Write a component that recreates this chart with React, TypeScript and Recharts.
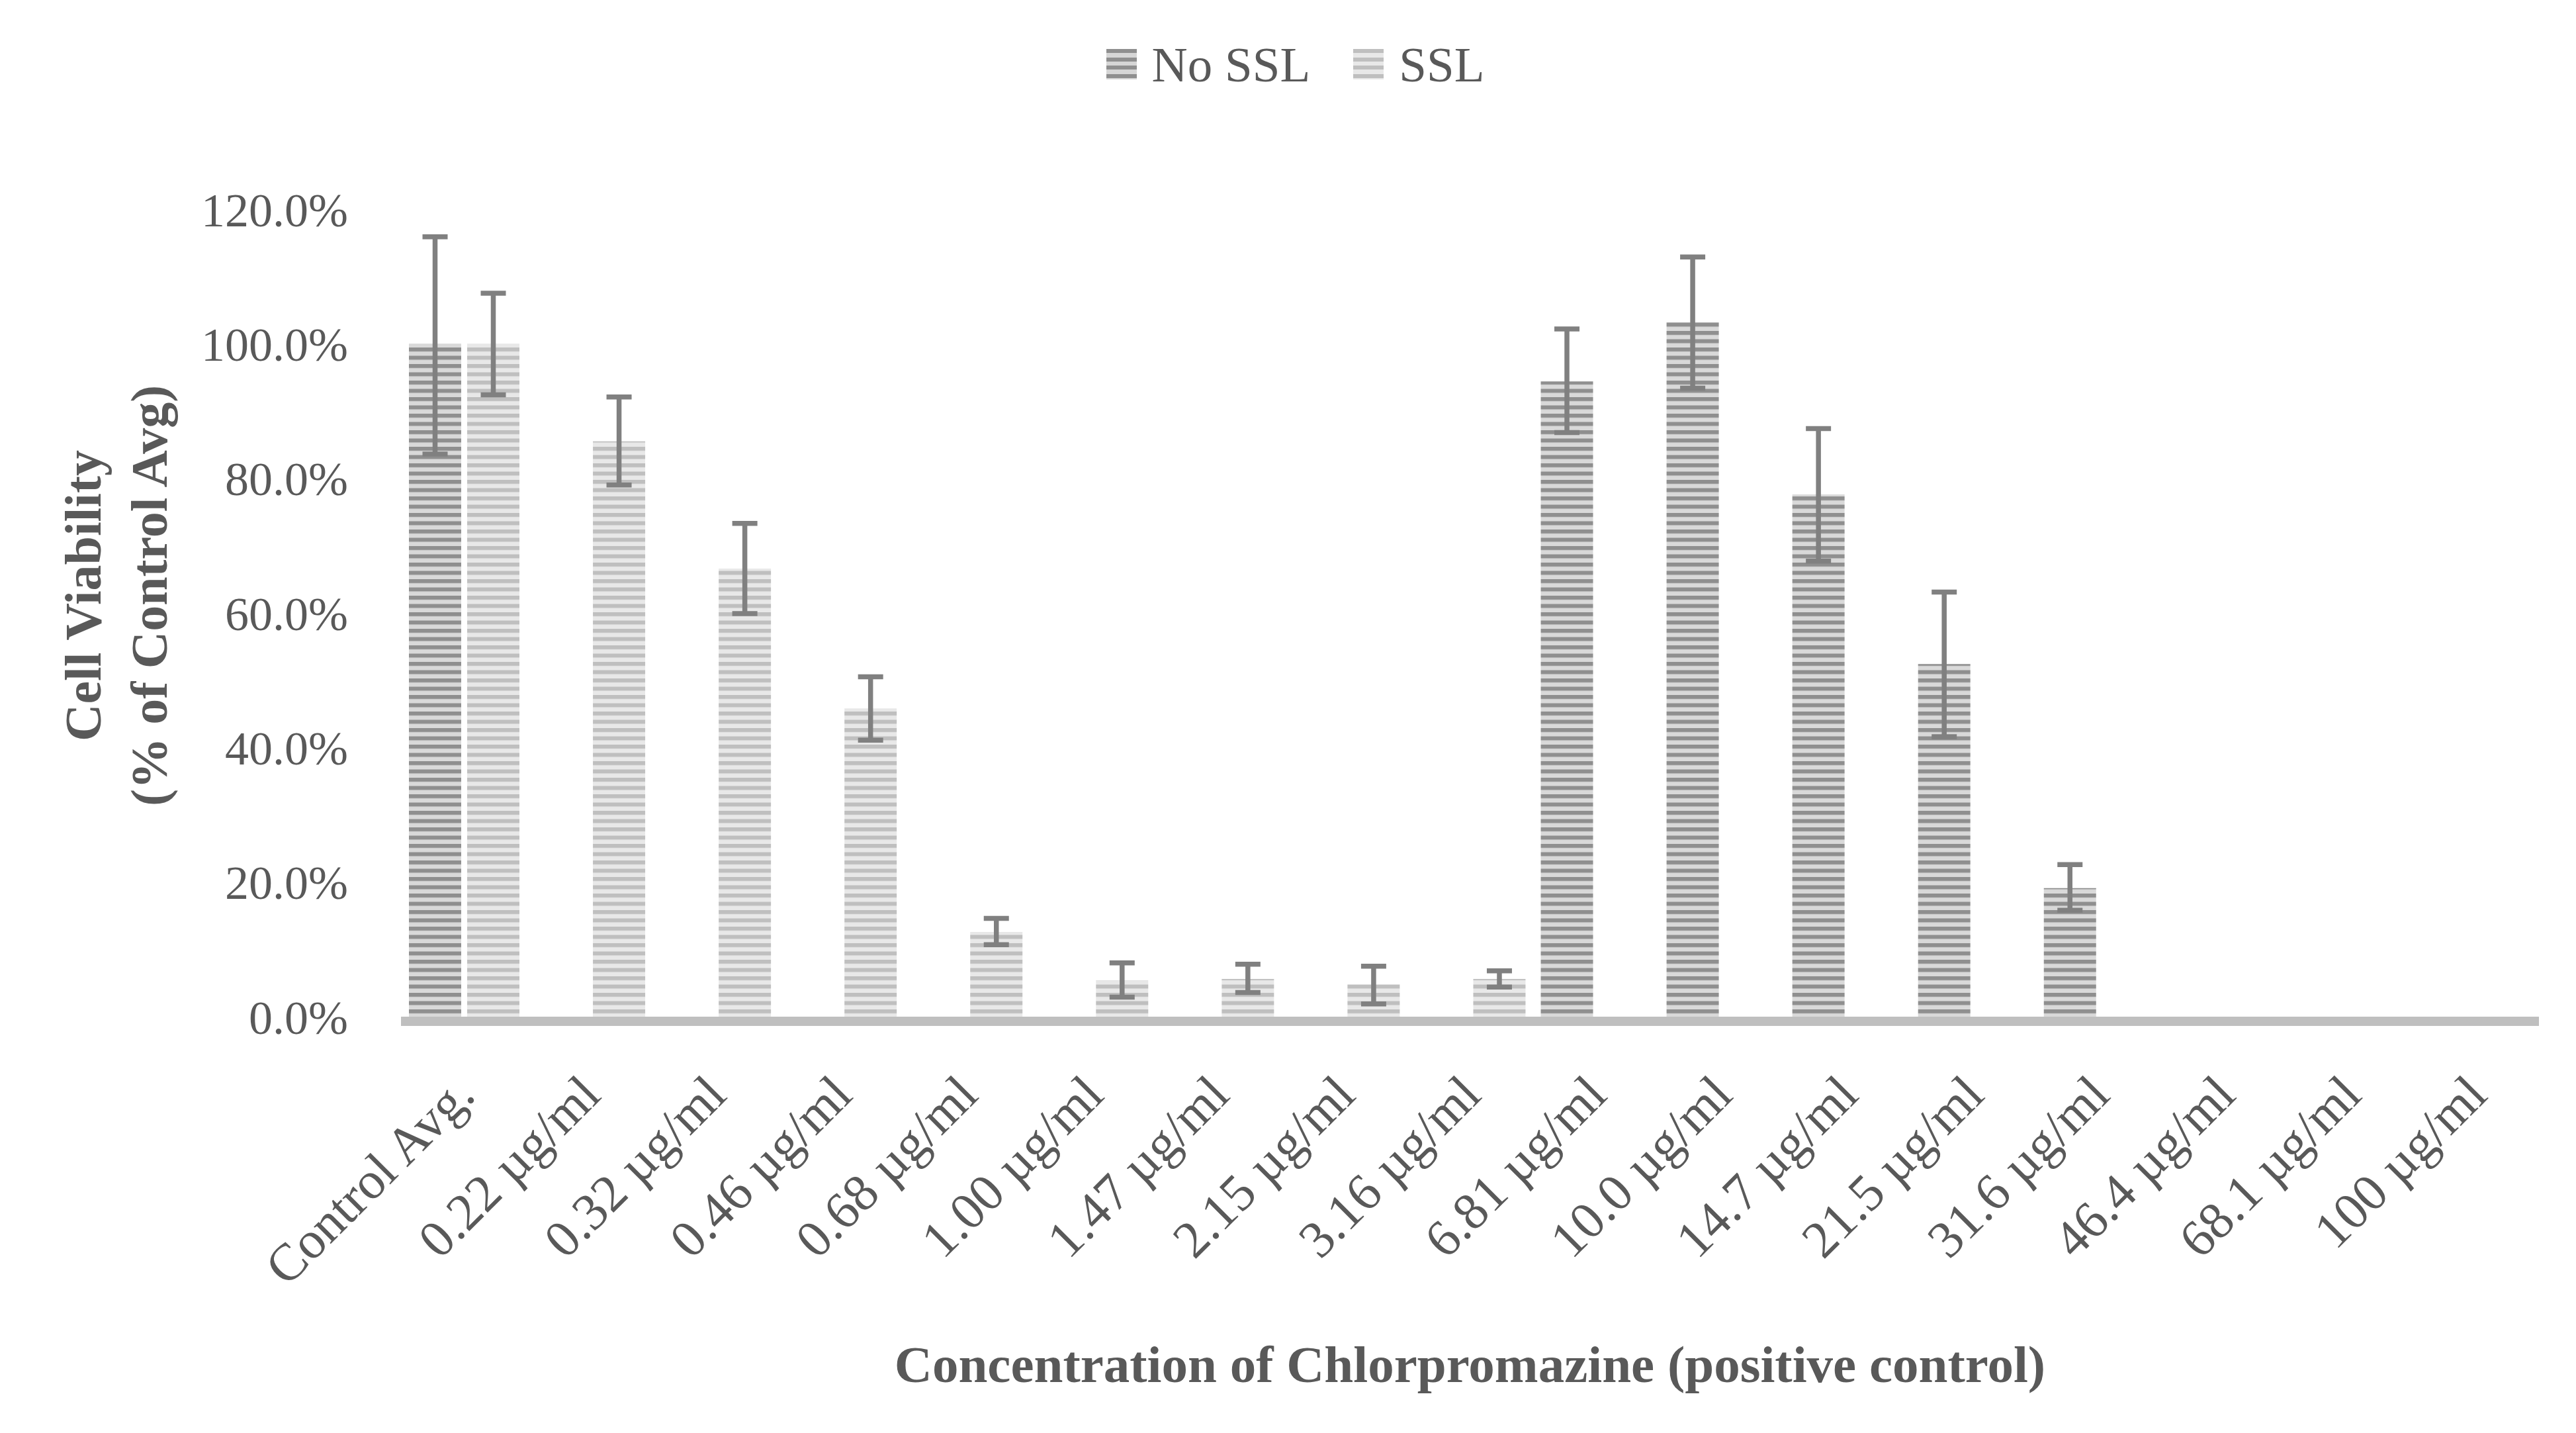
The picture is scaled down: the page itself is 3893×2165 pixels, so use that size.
import { Bar, BarChart, ErrorBar, Legend, XAxis, YAxis } from "recharts";

const categories = [
  "Control Avg.",
  "0.22 µg/ml",
  "0.32 µg/ml",
  "0.46 µg/ml",
  "0.68 µg/ml",
  "1.00 µg/ml",
  "1.47 µg/ml",
  "2.15 µg/ml",
  "3.16 µg/ml",
  "6.81 µg/ml",
  "10.0 µg/ml",
  "14.7 µg/ml",
  "21.5 µg/ml",
  "31.6 µg/ml",
  "46.4 µg/ml",
  "68.1 µg/ml",
  "100 µg/ml",
];

// No SSL: mean and the ends of the error whiskers (% of control)
const noSslMean = [100, null, null, null, null, null, null, null, null, 94.4, 103.2, 77.6, 52.4, 19.1, null, null, null];
const noSslHigh = [115.9, null, null, null, null, null, null, null, null, 102.2, 112.9, 87.4, 63.1, 22.6, null, null, null];
const noSslLow = [83.6, null, null, null, null, null, null, null, null, 86.8, 93.4, 67.7, 41.6, 15.8, null, null, null];

// SSL
const sslMean = [100, 85.5, 66.6, 45.8, 12.6, 5.4, 5.6, 4.8, 5.6, null, null, null, null, null, null, null, null];
const sslHigh = [107.5, 92.1, 73.3, 50.5, 14.6, 8.0, 7.8, 7.5, 6.8, null, null, null, null, null, null, null, null];
const sslLow = [92.4, 79.0, 59.9, 41.1, 10.7, 2.9, 3.6, 1.9, 4.4, null, null, null, null, null, null, null, null];

const yTicks = [0, 20, 40, 60, 80, 100, 120];

const seriesNames = ["No SSL", "SSL"];

const FONT = '"Liberation Serif", "Times New Roman", serif';
const TEXT = "#595959";

const swatches = [
  "repeating-linear-gradient(to bottom, #8f8f8f 0px, #8f8f8f 6px, #d6d6d6 6px, #d6d6d6 12.5px)",
  "repeating-linear-gradient(to bottom, #bfbfbf 0px, #bfbfbf 6px, #e8e8e8 6px, #e8e8e8 12.5px)",
];

const errRange = (mean: (number | null)[], high: (number | null)[], low: (number | null)[], i: number) => {
  const m = mean[i];
  const h = high[i];
  const l = low[i];
  if (m == null || h == null || l == null) return null;
  return [m - l, h - m];
};

const data = categories.map((name, i) => ({
  name,
  noSsl: noSslMean[i],
  noSslErr: errRange(noSslMean, noSslHigh, noSslLow, i),
  ssl: sslMean[i],
  sslErr: errRange(sslMean, sslHigh, sslLow, i),
}));

const SlantTick = (props: any) => {
  const { x, y, payload } = props;
  const ax = x + 20;
  const ay = y + 122;
  return (
    <text
      x={ax}
      y={ay}
      transform={`rotate(-45, ${ax}, ${ay})`}
      textAnchor="end"
      fill={TEXT}
      fontSize={79}
      fontFamily={FONT}
    >
      {payload.value}
    </text>
  );
};

const YTitle = () => (
  <g fill={TEXT} fontFamily={FONT} fontSize={78} fontWeight="bold">
    <text transform="translate(152, 900) rotate(-90)" textAnchor="middle">
      Cell Viability
    </text>
    <text transform="translate(252, 900) rotate(-90)" textAnchor="middle">
      (% of Control Avg)
    </text>
  </g>
);

const XTitle = (props: any) => {
  const vb = props.viewBox || {};
  return (
    <text
      x={vb.x + vb.width / 2}
      y={2088}
      textAnchor="middle"
      fill={TEXT}
      fontFamily={FONT}
      fontSize={79}
      fontWeight="bold"
    >
      Concentration of Chlorpromazine (positive control)
    </text>
  );
};

const LegendContent = () => (
  <div
    style={{
      display: "flex",
      justifyContent: "center",
      alignItems: "center",
      height: 60,
      fontFamily: FONT,
      fontSize: 75,
      color: TEXT,
      lineHeight: 1,
    }}
  >
    {seriesNames.map((n, i) => (
      <div key={n} style={{ display: "flex", alignItems: "center", marginLeft: i ? 65 : 0 }}>
        <div style={{ width: 46, height: 46, background: swatches[i], marginRight: 23 }} />
        <span>{n}</span>
      </div>
    ))}
  </div>
);

export default function App() {
  return (
    <div style={{ position: "absolute", left: 0, top: 0, width: 3893, height: 2165, background: "#fff" }}>
      <BarChart
        width={3893}
        height={2165}
        data={data}
        margin={{ top: 316, right: 56, bottom: 0, left: 0 }}
        barCategoryGap={12}
        barGap={9}
      >
        <defs>
          <pattern id="stripeDark" width="20" height="12.5" patternUnits="userSpaceOnUse">
            <rect width="20" height="12.5" fill="#d9d9d9" />
            <rect width="20" height="6" fill="#8f8f8f" />
          </pattern>
          <pattern id="stripeLight" width="20" height="12.5" patternUnits="userSpaceOnUse">
            <rect width="20" height="12.5" fill="#e8e8e8" />
            <rect width="20" height="6" fill="#bfbfbf" />
          </pattern>
        </defs>
        <XAxis
          dataKey="name"
          type="category"
          interval={0}
          height={629}
          tick={<SlantTick />}
          tickLine={false}
          tickSize={0}
          tickMargin={0}
          axisLine={{ stroke: "#bfbfbf", strokeWidth: 14, transform: "translate(0, 7)" }}
          label={<XTitle />}
        />
        <YAxis
          type="number"
          domain={[0, 120]}
          ticks={yTicks}
          width={606}
          axisLine={false}
          tickLine={false}
          tickSize={0}
          tickMargin={80}
          tickFormatter={(v: number) => `${v.toFixed(1)}%`}
          tick={{ fill: TEXT, fontSize: 72, fontFamily: FONT }}
          label={<YTitle />}
        />
        <Legend
          layout="horizontal"
          align="center"
          verticalAlign="middle"
          wrapperStyle={{ top: 67, left: 11, width: 3893 }}
          content={<LegendContent />}
        />
        <Bar dataKey="noSsl" name={seriesNames[0]} fill="url(#stripeDark)" isAnimationActive={false}>
          <ErrorBar dataKey="noSslErr" width={19} strokeWidth={7.5} stroke="#808080" direction="y" />
        </Bar>
        <Bar dataKey="ssl" name={seriesNames[1]} fill="url(#stripeLight)" isAnimationActive={false}>
          <ErrorBar dataKey="sslErr" width={19} strokeWidth={7.5} stroke="#808080" direction="y" />
        </Bar>
      </BarChart>
    </div>
  );
}
